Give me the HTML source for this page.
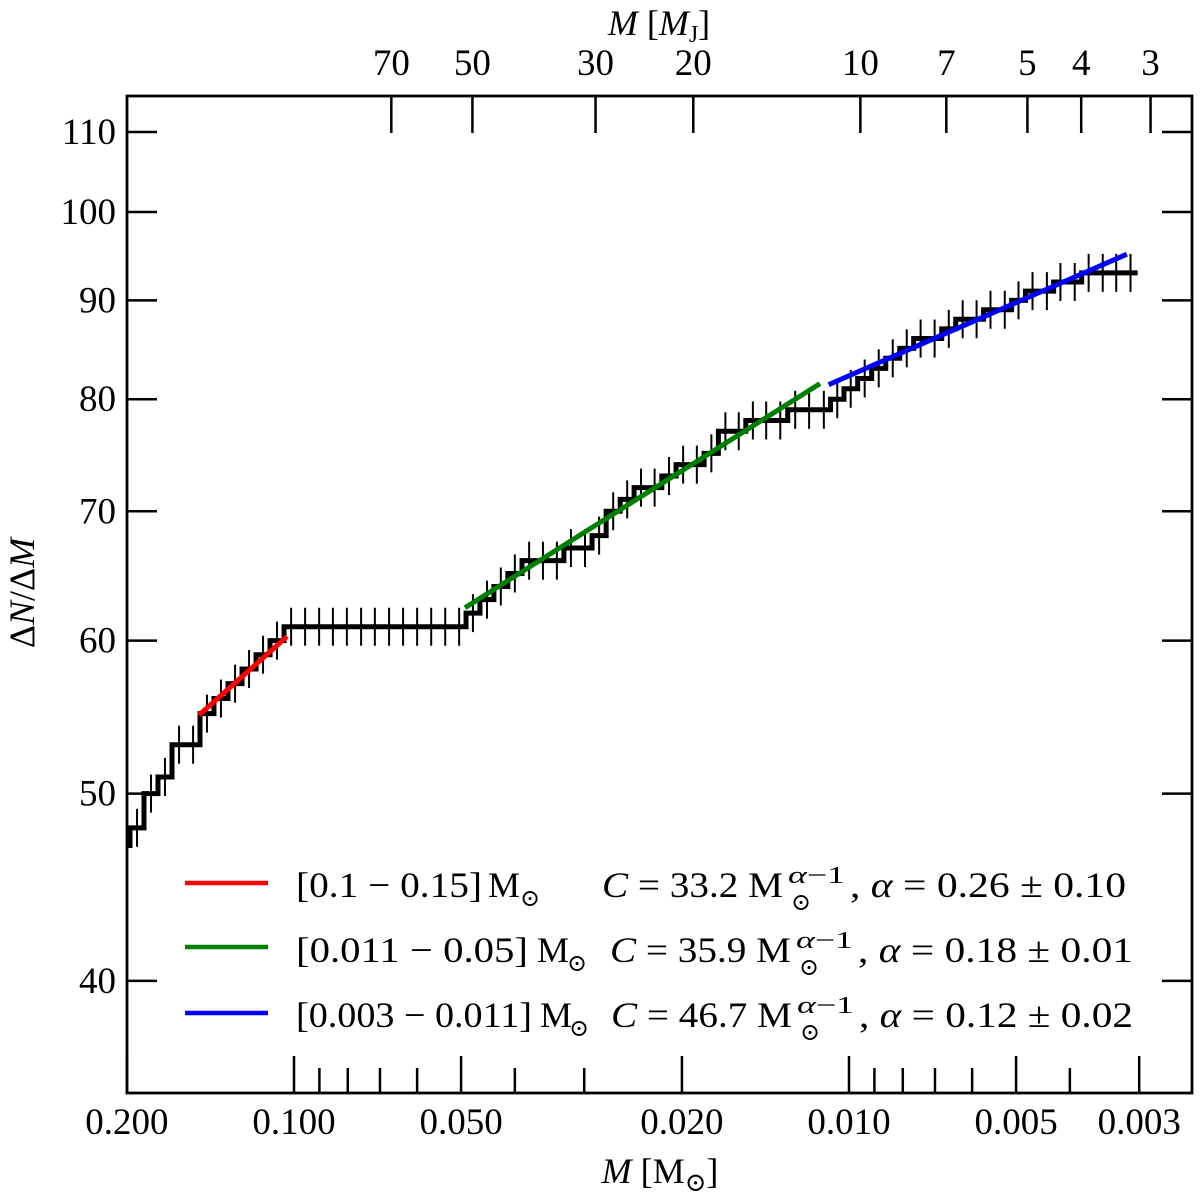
<!DOCTYPE html>
<html><head><meta charset="utf-8"><title>Mass function</title>
<style>
html,body{margin:0;padding:0;background:#fff;}
svg{display:block;}
text{font-family:"Liberation Serif","DejaVu Serif",serif;fill:#000;}
</style></head>
<body>
<svg id="chart" width="1200" height="1199" viewBox="0 0 1200 1199" xmlns="http://www.w3.org/2000/svg">
<defs><clipPath id="plotclip"><rect x="127" y="96" width="1065" height="997"/></clipPath></defs>
<rect x="0" y="0" width="1200" height="1199" fill="#fff"/>
<g id="marks" clip-path="url(#plotclip)"></g>
<g id="axes"></g>
<rect x="127" y="96" width="1065" height="997" fill="none" stroke="#000" stroke-width="2.8"/>

<text x="660" y="1183" font-size="36" text-anchor="middle"><tspan font-style="italic">M</tspan> [M<tspan font-size="26" dy="8">⊙</tspan><tspan dy="-8">]</tspan></text>
<text x="659" y="35" font-size="36" text-anchor="middle"><tspan font-style="italic">M</tspan> [<tspan font-style="italic">M</tspan><tspan font-size="24" dy="7">J</tspan><tspan dy="-7">]</tspan></text>
<text x="0" y="0" font-size="36" text-anchor="middle" transform="translate(34,593) rotate(-90)">Δ<tspan font-style="italic">N</tspan>/Δ<tspan font-style="italic">M</tspan></text>

<g>
  <line x1="185" y1="883" x2="268" y2="883" stroke="#ff0000" stroke-width="4.5"/>
  <line x1="185" y1="947" x2="268" y2="947" stroke="#008000" stroke-width="4.5"/>
  <line x1="185" y1="1013" x2="268" y2="1013" stroke="#0000ff" stroke-width="4.5"/>

  <g>
    <text x="296" y="897" font-size="36" textLength="186" lengthAdjust="spacingAndGlyphs">[0.1 − 0.15]</text>
    <text x="488" y="897" font-size="36">M</text><text x="520" y="906" font-size="24">⊙</text>
    <text x="602" y="897" font-size="36" textLength="181" lengthAdjust="spacingAndGlyphs"><tspan font-style="italic">C</tspan> = 33.2 M</text>
    <text x="788" y="883" font-size="24" textLength="57" lengthAdjust="spacingAndGlyphs"><tspan font-style="italic">α</tspan>−1</text>
    <text x="791" y="910" font-size="24">⊙</text>
    <text x="850" y="897" font-size="36" textLength="276" lengthAdjust="spacingAndGlyphs">, <tspan font-style="italic">α</tspan> = 0.26 ± 0.10</text>
  </g>
  <g>
    <text x="296" y="962" font-size="36" textLength="232" lengthAdjust="spacingAndGlyphs">[0.011 − 0.05]</text>
    <text x="537" y="962" font-size="36">M</text><text x="567" y="971" font-size="24">⊙</text>
    <text x="610" y="962" font-size="36" textLength="181" lengthAdjust="spacingAndGlyphs"><tspan font-style="italic">C</tspan> = 35.9 M</text>
    <text x="796" y="948" font-size="24" textLength="57" lengthAdjust="spacingAndGlyphs"><tspan font-style="italic">α</tspan>−1</text>
    <text x="799" y="975" font-size="24">⊙</text>
    <text x="858" y="962" font-size="36" textLength="275" lengthAdjust="spacingAndGlyphs">, <tspan font-style="italic">α</tspan> = 0.18 ± 0.01</text>
  </g>
  <g>
    <text x="296" y="1027" font-size="36" textLength="236" lengthAdjust="spacingAndGlyphs">[0.003 − 0.011]</text>
    <text x="540" y="1027" font-size="36">M</text><text x="569" y="1036" font-size="24">⊙</text>
    <text x="611" y="1027" font-size="36" textLength="181" lengthAdjust="spacingAndGlyphs"><tspan font-style="italic">C</tspan> = 46.7 M</text>
    <text x="797" y="1013" font-size="24" textLength="57" lengthAdjust="spacingAndGlyphs"><tspan font-style="italic">α</tspan>−1</text>
    <text x="800" y="1040" font-size="24">⊙</text>
    <text x="859" y="1027" font-size="36" textLength="274" lengthAdjust="spacingAndGlyphs">, <tspan font-style="italic">α</tspan> = 0.12 ± 0.02</text>
  </g>
</g>
</svg>
<script>
// ---- data ----
const binMass = [0.2033,0.1918,0.1810,0.1708,0.1611,0.1520,0.1435,0.1354,0.1277,0.1205,0.1137,0.1073,0.1012,0.0955,0.0901,0.0851,0.0803,0.0757,0.0715,0.0674,0.0636,0.0600,0.0566,0.0534,0.0504,0.0476,0.0449,0.0424,0.0400,0.0377,0.0356,0.0336,0.0317,0.0299,0.0282,0.0266,0.0251,0.0237,0.0224,0.0211,0.0199,0.0188,0.0177,0.0167,0.0158,0.0149,0.0141,0.0133,0.0125,0.0118,0.0111,0.0105,0.00993,0.00937,0.00884,0.00834,0.00787,0.00743,0.00701,0.00661,0.00624,0.00589,0.00556,0.00524,0.00495,0.00467,0.00440,0.00416,0.00392,0.00370,0.00349,0.00330,0.00311];
const binValue = [47,48,50,51,53,53,55,56,57,58,59,60,61,61,61,61,61,61,61,61,61,61,61,61,61,62,63,64,65,66,66,66,67,67,68,70,71,72,72,73,74,74,75,77,77,78,78,78,79,79,79,80,81,82,83,84,85,86,86,87,88,88,89,89,90,91,91,92,92,93,93,93,93];
const fitNames = ['fit-red','fit-green','fit-blue'];
const fitColors = ['#ff0000','#008000','#0000ff'];
const fitStartMass = [0.1483,0.0492,0.01088];
const fitEndMass = [0.1029,0.01128,0.003157];
const fitStartValue = [54.9,62.4,81.4];
const fitEndValue = [60.3,81.5,95.1];
const yTicks = [40,50,60,70,80,90,100,110];
const xMajorTicks = [0.2,0.1,0.05,0.02,0.01,0.005,0.003];
const xMajorLabels = ['0.200','0.100','0.050','0.020','0.010','0.005','0.003'];
const xMinorTicks = [0.09,0.08,0.07,0.06,0.04,0.03,0.009,0.008,0.007,0.006,0.004];
const topTicksMJ = [70,50,30,20,10,7,5,4,3];
const MJ_IN_MSUN = 0.000954;

// ---- scales ----
const X0 = 294, XDEC = 555;
const Y0 = 212, YDEC = 1932;
function xs(m){ return X0 + XDEC*Math.log10(0.1/m); }
function ys(v){ return Y0 + (2 - Math.log10(v))*YDEC; }

const NS = 'http://www.w3.org/2000/svg';
const marks = document.getElementById('marks');
const axes = document.getElementById('axes');
function mk(tag, attrs, parent){
  const e = document.createElementNS(NS, tag);
  for (const k in attrs) e.setAttribute(k, attrs[k]);
  parent.appendChild(e);
  return e;
}

// ---- error bars ----
const ERR_HALF = 19;
binMass.forEach((m,i)=>{
  const x = xs(m), y = ys(binValue[i]);
  const l = mk('line',{x1:x,x2:x,y1:y-ERR_HALF,y2:y+ERR_HALF,stroke:'#000','stroke-width':2},marks);
  
  
});

// ---- step line ----
const n = binMass.length;
function edge(i){
  if (i<=0) return xs(binMass[0]) - (xs(binMass[1])-xs(binMass[0]))/2;
  if (i>=n) return xs(binMass[n-1]) + (xs(binMass[n-1])-xs(binMass[n-2]))/2;
  return (xs(binMass[i-1])+xs(binMass[i]))/2;
}
let d = 'M'+edge(0)+','+ys(binValue[0]);
for (let i=0;i<n;i++){
  d += ' H'+edge(i+1);
  if (i<n-1) d += ' V'+ys(binValue[i+1]);
}
const step = mk('path',{d:d,fill:'none',stroke:'#000','stroke-width':5,'stroke-linejoin':'miter'},marks);



// ---- fit lines ----
fitNames.forEach((nm,i)=>{
  const l = mk('line',{x1:xs(fitStartMass[i]),y1:ys(fitStartValue[i]),x2:xs(fitEndMass[i]),y2:ys(fitEndValue[i]),stroke:fitColors[i],'stroke-width':5},marks);
  
  
});

// ---- y ticks ----
yTicks.forEach(v=>{
  const y = ys(v);
  const t1 = mk('line',{x1:127,x2:157,y1:y,y2:y,stroke:'#000','stroke-width':2.5},axes);
  
  
  const t2 = mk('line',{x1:1162,x2:1192,y1:y,y2:y,stroke:'#000','stroke-width':2.5},axes);
  
  
  const tx = mk('text',{x:116,y:y+12,'font-size':37,'text-anchor':'end'},axes);
  tx.textContent = String(v);
  
  
});

// ---- bottom ticks ----
xMajorTicks.forEach((m,i)=>{
  const x = xs(m);
  const t = mk('line',{x1:x,x2:x,y1:1093,y2:1056,stroke:'#000','stroke-width':2.5},axes);
  
  
  const tx = mk('text',{x:x,y:1134,'font-size':37,'text-anchor':'middle'},axes);
  tx.textContent = xMajorLabels[i];
  
  
});
xMinorTicks.forEach(m=>{
  const x = xs(m);
  const t = mk('line',{x1:x,x2:x,y1:1093,y2:1068,stroke:'#000','stroke-width':2.5},axes);
  
  
});

// ---- top ticks (Jupiter masses) ----
topTicksMJ.forEach(mj=>{
  const x = xs(mj*MJ_IN_MSUN);
  const t = mk('line',{x1:x,x2:x,y1:96,y2:133,stroke:'#000','stroke-width':2.5},axes);
  
  
  const tx = mk('text',{x:x,y:75,'font-size':37,'text-anchor':'middle'},axes);
  tx.textContent = String(mj);
  
  
});
</script>
</body></html>
